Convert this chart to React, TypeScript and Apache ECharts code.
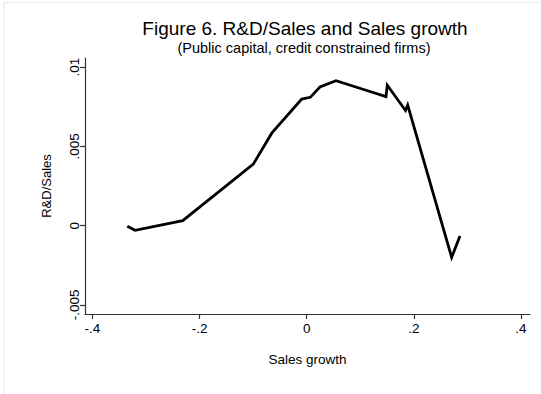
import React, { useEffect, useRef } from "react";
import * as echarts from "echarts";

const salesGrowth = [
  -0.335, -0.3206, -0.2315, -0.0997, -0.0653, -0.0093, 0.0067, 0.0248, 0.0547,
  0.1182, 0.148, 0.1505, 0.1845, 0.1886, 0.2707, 0.2862,
];
const rdSales = [
  -0.00004, -0.00029, 0.00032, 0.00388, 0.00583, 0.00798, 0.00809, 0.00874,
  0.00914, 0.00846, 0.00814, 0.00885, 0.00726, 0.0076, -0.002, -0.00065,
];
const xTickValues = [-0.4, -0.2, 0, 0.2, 0.4];
const xTickLabels = ["-.4", "-.2", "0", ".2", ".4"];
const yTickValues = [-0.005, 0, 0.005, 0.01];
const yTickLabels = ["-.005", "0", ".005", ".01"];

const titleText = "Figure 6. R&D/Sales and Sales growth";
const subtitleText = "(Public capital, credit constrained firms)";
const xName = "Sales growth";
const yName = "R&D/Sales";

const FONT = '"Liberation Sans", Arial, Helvetica, sans-serif';

export default function App() {
  const ref = useRef<HTMLDivElement>(null);
  useEffect(() => {
    if (!ref.current) return;
    const chart = echarts.init(ref.current, undefined, { renderer: "svg" });
    const labelFor = (vals: number[], labels: string[]) => (v: number) => {
      const i = vals.findIndex((t) => Math.abs(t - v) < 1e-9);
      return i >= 0 ? labels[i] : "";
    };
    chart.setOption({
      animation: false,
      backgroundColor: "#ffffff",
      textStyle: { fontFamily: FONT },
      grid: { left: 85, right: 11, top: 58, bottom: 80, containLabel: false },
      graphic: [
        { type: "line", shape: { x1: 3, y1: 2.5, x2: 541, y2: 2.5 }, style: { stroke: "#eaf1f1", lineWidth: 1.5 } },
        { type: "line", shape: { x1: 4, y1: 2, x2: 4, y2: 394 }, style: { stroke: "#eaf1f1", lineWidth: 1.5 } },
        {
          type: "text",
          x: 305,
          y: 28.5,
          style: { text: titleText, font: `19px ${FONT}`, fill: "#000", textAlign: "center", textVerticalAlign: "middle" },
        },
        {
          type: "text",
          x: 304,
          y: 47.5,
          style: { text: subtitleText, font: `14.5px ${FONT}`, fill: "#000", textAlign: "center", textVerticalAlign: "middle" },
        },
      ],
      xAxis: {
        type: "value",
        min: -0.414,
        max: 0.417,
        name: xName,
        nameLocation: "middle",
        nameGap: 38,
        nameTextStyle: { fontSize: 13.5, color: "#000", fontFamily: FONT },
        axisLine: { show: true, onZero: false, lineStyle: { color: "#333", width: 1.2 } },
        axisTick: { show: true, length: 5, customValues: xTickValues, lineStyle: { color: "#333", width: 1.2 } },
        axisLabel: {
          customValues: xTickValues,
          formatter: labelFor(xTickValues, xTickLabels),
          fontSize: 13.5,
          color: "#000",
          margin: 7,
          fontFamily: FONT,
        },
        splitLine: { show: false },
      },
      yAxis: {
        type: "value",
        min: -0.00557,
        max: 0.01057,
        name: yName,
        nameLocation: "middle",
        nameGap: 32,
        nameRotate: 90,
        nameTextStyle: { fontSize: 13, color: "#000", fontFamily: FONT },
        axisLine: { show: true, onZero: false, lineStyle: { color: "#333", width: 1.2 } },
        axisTick: { show: true, length: 5, customValues: yTickValues, lineStyle: { color: "#333", width: 1.2 } },
        axisLabel: {
          customValues: yTickValues,
          formatter: labelFor(yTickValues, yTickLabels),
          rotate: 90,
          fontSize: 13.5,
          color: "#000",
          margin: 4,
          fontFamily: FONT,
        },
        splitLine: { show: false },
      },
      series: [
        {
          type: "line",
          data: salesGrowth.map((x, i) => [x, rdSales[i]]),
          showSymbol: false,
          symbol: "none",
          lineStyle: { color: "#000", width: 2.8, join: "miter" },
        },
      ],
    });
    return () => chart.dispose();
  }, []);
  return <div ref={ref} style={{ position: "fixed", left: 0, top: 0, width: 541, height: 394 }} />;
}
